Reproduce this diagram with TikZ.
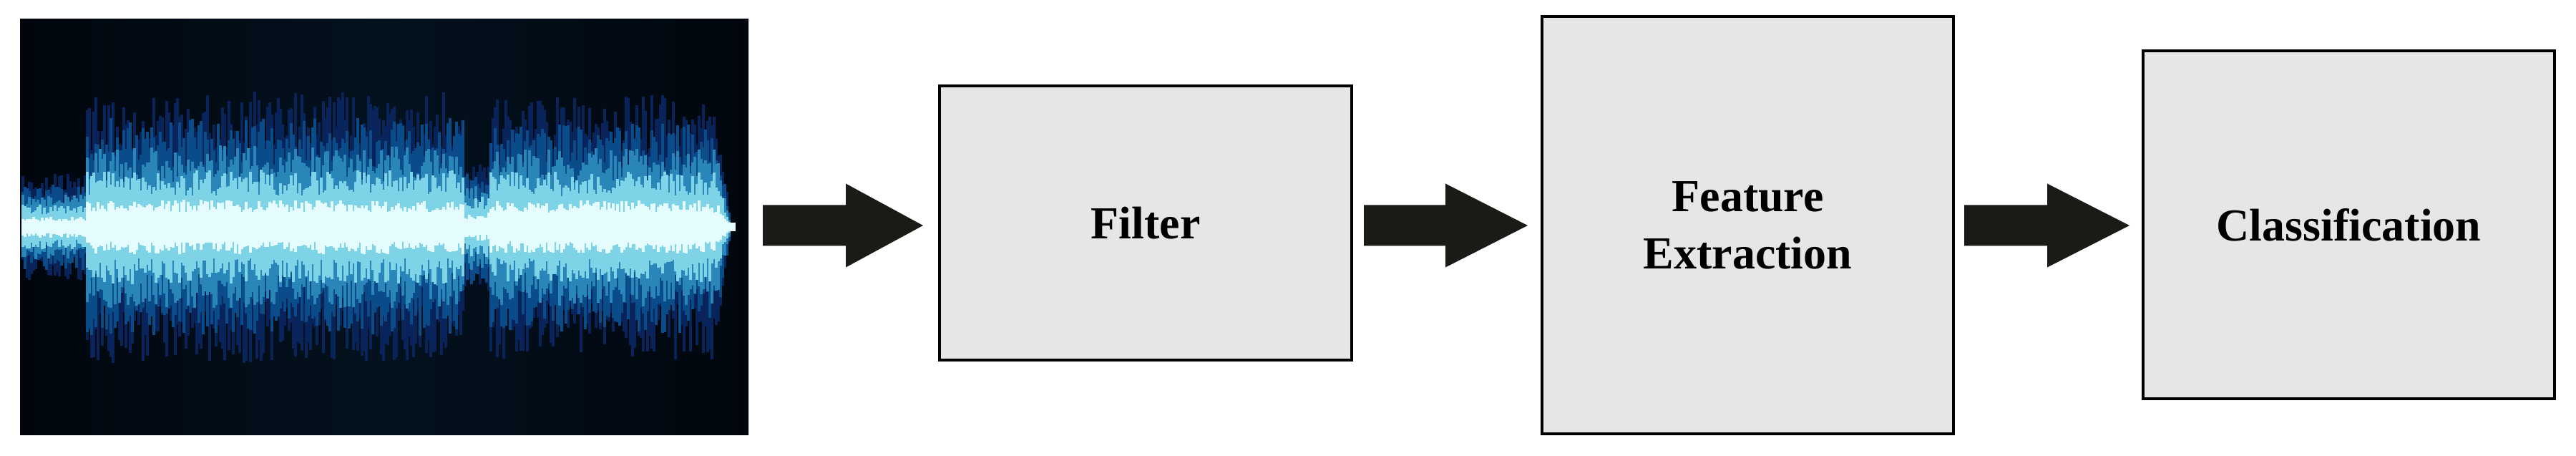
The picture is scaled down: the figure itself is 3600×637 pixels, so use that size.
\documentclass[tikz,border=0pt]{standalone}
\usepackage{fontspec}
\setmainfont{Liberation Serif}
\usetikzlibrary{calc}
\definecolor{boxfill}{HTML}{E6E6E6}
\definecolor{arrowc}{HTML}{1A1A16}
\definecolor{bgA}{HTML}{01060D}
\definecolor{bgB}{HTML}{03121F}
\definecolor{w1}{HTML}{08245A}
\definecolor{w2}{HTML}{0A4C8A}
\definecolor{w3}{HTML}{2A86B8}
\definecolor{w4}{HTML}{7FD3E6}
\definecolor{w5}{HTML}{E4FCFD}
\begin{document}
\begin{tikzpicture}[x=1pt,y=1pt,
  blockbox/.style={draw=black,line width=4pt,fill=boxfill,inner sep=0pt},
  blocktext/.style={font=\fontsize{64}{80}\selectfont\bfseries,align=center},
  blockarrow/.style={fill=arrowc,draw=none}]
\useasboundingbox (0,0) rectangle (3600,637);
% waveform picture
\node[inner sep=0pt,minimum width=1018pt,minimum height=581pt,anchor=south west,
  left color=bgA,right color=bgA,middle color=bgB,draw=none] (img) at (28,29) {};
\pgfmathsetseed{7}
\foreach \s/\c in {1/w1,0.8/w2,0.6/w3,0.42/w4,0.2/w5}{
  \foreach \i in {0,...,330}{
    \pgfmathsetmacro{\xx}{32+\i*3}
    \pgfmathsetmacro{\tp}{max(5,(1022-\xx)/22*185)}
    \pgfmathsetmacro{\env}{\xx<120 ? 75 : (\xx<650 ? 190 : (\xx<685 ? 100 : (\xx<1000 ? 185 : \tp)))}
    \pgfmathsetmacro{\up}{\s*\env*(0.55+0.45*rnd)}
    \pgfmathsetmacro{\dn}{\s*\env*(0.55+0.45*rnd)}
    \draw[\c,line width=3.2pt] (\xx,320+\up) -- (\xx,320-\dn);
  }
}
\fill[w5] (30,314) rectangle (1028,326);
% boxes
\node[blockbox,minimum width=576pt,minimum height=383pt,anchor=south west] (filter) at (1311,132) {};
\node[blocktext] at (filter.center) {Filter};
\node[blockbox,minimum width=575pt,minimum height=583pt,anchor=south west] (fe) at (2153,29) {};
\node[blocktext] at (fe.center) {Feature\\Extraction};
\node[blockbox,minimum width=575pt,minimum height=486pt,anchor=south west] (cls) at (2993,78) {};
\node[blocktext] at (cls.center) {Classification};
% block arrows
\foreach \a/\b/\m in {1066/1290/1182,1906/2135/2020,2745/2976/2861}{
  \fill[blockarrow] (\a,293.5) -- (\m,293.5) -- (\m,263.5) -- (\b,322) -- (\m,380.5) -- (\m,350.5) -- (\a,350.5) -- cycle;
}
\end{tikzpicture}
\end{document}
